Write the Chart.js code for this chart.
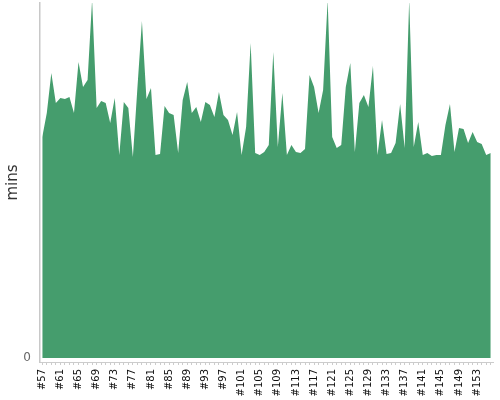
<!DOCTYPE html>
<html>
<head>
<meta charset="utf-8">
<script src="https://cdn.jsdelivr.net/npm/chart.js@4/dist/chart.umd.min.js"></script>
<style>
html,body{margin:0;padding:0;background:#fff;}
#c{display:block;}
</style>
</head>
<body>
<canvas id="c" width="500" height="400"></canvas>
<script>
const firstBuild = 57;
const buildCount = 100;
const categories = [];
for (let n = firstBuild; n < firstBuild + buildCount; n++) categories.push('#' + n);

const minutes = [
  22.1, 24.5, 28.5, 25.5, 26.0, 25.9, 26.1, 24.5, 29.6, 27.1,
  27.8, 35.8, 25.0, 25.7, 25.5, 23.5, 26.0, 20.3, 25.6, 25.0,
  20.1, 27.0, 33.7, 25.9, 27.0, 20.3, 20.4, 25.2, 24.5, 24.3,
  20.5, 25.8, 27.6, 24.5, 25.1, 23.6, 25.6, 25.3, 24.1, 26.6,
  24.3, 23.8, 22.3, 24.6, 20.3, 23.1, 31.5, 20.5, 20.3, 20.6,
  21.3, 30.6, 21.1, 26.5, 20.3, 21.3, 20.6, 20.5, 20.9, 28.3,
  27.1, 24.5, 26.8, 35.8, 22.1, 21.0, 21.3, 27.1, 29.5, 20.6,
  25.5, 26.3, 25.1, 29.2, 20.3, 23.8, 20.4, 20.5, 21.5, 25.4,
  21.0, 35.8, 21.1, 23.6, 20.3, 20.5, 20.2, 20.3, 20.3, 23.3,
  25.4, 20.6, 23.0, 22.9, 21.5, 22.6, 21.6, 21.4, 20.3, 20.5
];

const yTickValues = [0];
const yTitle = 'mins';

new Chart(document.getElementById('c'), {
  type: 'line',
  data: {
    labels: categories,
    datasets: [{
      data: minutes,
      fill: 'origin',
      backgroundColor: '#459d6d',
      borderColor: '#459d6d',
      borderWidth: 0,
      pointRadius: 0,
      tension: 0
    }]
  },
  options: {
    responsive: false,
    animation: false,
    layout: { padding: { top: 3, right: 7, left: 0, bottom: 0 } },
    plugins: { legend: { display: false }, tooltip: { enabled: false } },
    scales: {
      x: {
        offset: true,
        grid: { display: true, drawOnChartArea: false, offset: false, tickLength: 3, color: '#cccccc' },
        border: { display: true, color: '#cccccc' },
        ticks: {
          autoSkip: false,
          maxRotation: 90,
          minRotation: 90,
          padding: 4,
          color: '#111',
          font: { family: 'DejaVu Sans', size: 10 },
          callback: function(v, i) { return i % 4 === 0 ? categories[i] : ''; }
        },
        afterFit: function(s) { s.height = 38; s.paddingLeft = 0; s.paddingRight = 0; }
      },
      y: {
        min: -0.4,
        max: 35.5,
        grid: { display: false, drawTicks: false },
        border: { display: true, color: '#c8c8c8', width: 1.5 },
        afterBuildTicks: function(s) { s.ticks = yTickValues.map(v => ({ value: v })); },
        ticks: {
          padding: 9,
          color: '#666',
          font: { family: 'DejaVu Sans', size: 12 },
          callback: function(v) { return String(v); }
        },
        title: {
          display: true,
          text: yTitle,
          color: '#333',
          font: { family: 'DejaVu Sans', size: 15 },
          padding: { top: 4, bottom: 4 }
        },
        afterFit: function(s) { s.width = 40; s.paddingTop = 0; s.paddingBottom = 0; }
      }
    }
  }
});
</script>
</body>
</html>
